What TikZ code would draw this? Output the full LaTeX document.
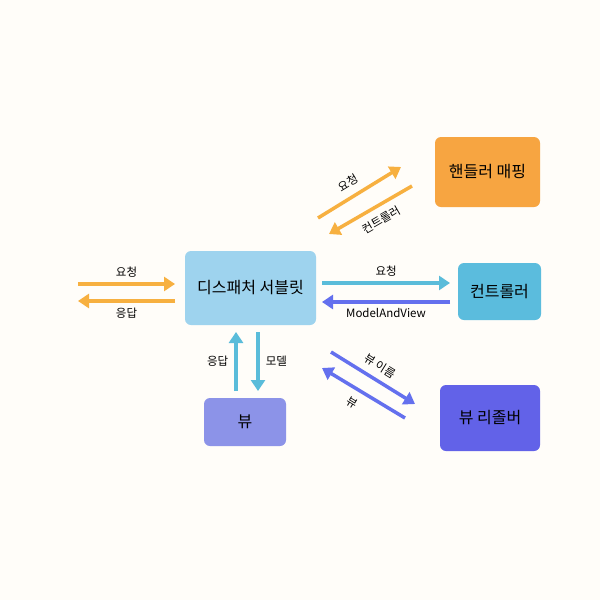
\documentclass[tikz,border=0pt]{standalone}
\usepackage{fontspec}
\setmainfont{Noto Sans CJK KR}
\usetikzlibrary{arrows.meta}
\definecolor{bg}{HTML}{FFFDF9}
\definecolor{cdisp}{HTML}{9ED3EE}
\definecolor{chm}{HTML}{F7A541}
\definecolor{cctl}{HTML}{5BBCDD}
\definecolor{cview}{HTML}{8C93E8}
\definecolor{cvr}{HTML}{6262E8}
\definecolor{aor}{HTML}{F7B040}
\definecolor{abl}{HTML}{5ABCDA}
\definecolor{apu}{HTML}{6470EE}
\tikzset{box/.style={rounded corners=6pt,inner sep=0pt,font=\fontsize{16}{19}\selectfont,text=black},
arr/.style={line width=3.5pt,-{Triangle[length=11pt,width=14pt]}},
lab/.style={font=\fontsize{11.5}{13}\selectfont,text=black,inner sep=1pt}}
\begin{document}
\begin{tikzpicture}[x=1pt,y=-1pt]
\fill[bg] (0,0) rectangle (600,600);
\useasboundingbox (0,0) rectangle (600,600);
\node[box,fill=cdisp,minimum width=131pt,minimum height=74pt] (d) at (250.5,288) {디스패처 서블릿};
\node[box,fill=chm,minimum width=105pt,minimum height=70pt] (hm) at (487.5,172) {핸들러 매핑};
\node[box,fill=cctl,minimum width=83pt,minimum height=57pt] (c) at (499.5,291.5) {컨트롤러};
\node[box,fill=cview,minimum width=82pt,minimum height=48pt] (v) at (245,422) {뷰};
\node[box,fill=cvr,minimum width=100pt,minimum height=66pt] (vr) at (490,418) {뷰 리졸버};
\coordinate (l1) at (78,284); \coordinate (l2) at (78,301);
\draw[arr,aor] (l1) -- (175,284) node[lab,midway,above=4pt]{요청};
\draw[arr,aor] (175,301) -- (l2) node[lab,midway,below=4pt]{응답};
\draw[arr,abl] (d.east |- 0,283) ++(6,0) -- (450,283) node[lab,midway,above=4pt]{요청};
\draw[arr,apu] (450,302) -- (322,302) node[lab,midway,below=4pt]{ModelAndView};
\draw[arr,aor] (318,218) -- (401,167) node[lab,pos=0.45,above=6pt,sloped]{요청};
\draw[arr,aor] (412,186) -- (329,234) node[lab,pos=0.45,below=6pt,sloped]{컨트롤러};
\draw[arr,abl] (236,391) -- (236,332) node[lab,midway,left=5pt]{응답};
\draw[arr,abl] (258,332) -- (258,391) node[lab,midway,right=5pt]{모델};
\draw[arr,apu] (331,352) -- (415,404) node[lab,pos=0.5,above=6pt,sloped]{뷰 이름};
\draw[arr,apu] (405,418) -- (322,368) node[lab,pos=0.55,below=6pt,sloped]{뷰};
\end{tikzpicture}
\end{document}
